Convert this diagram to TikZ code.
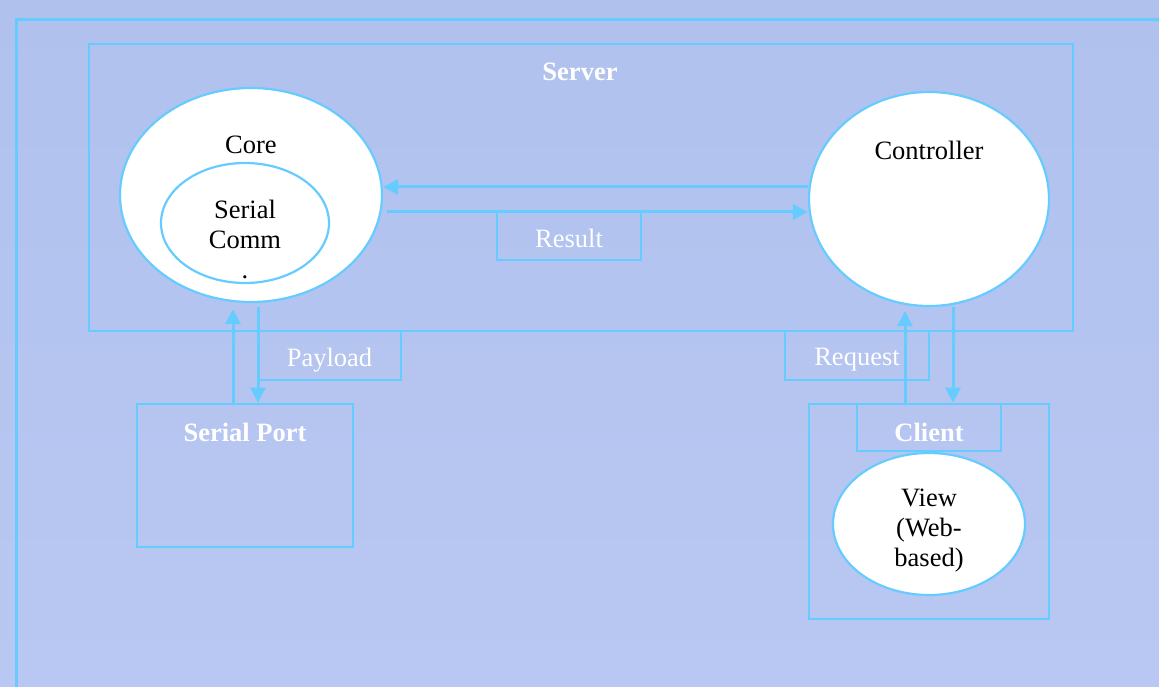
\documentclass[tikz,border=0pt]{standalone}
\usepackage{fontspec}
\setmainfont{Liberation Serif}
\usetikzlibrary{shapes.geometric,arrows.meta}
\definecolor{bgtop}{HTML}{B0C1EE}
\definecolor{bgbot}{HTML}{B9C8F2}
\definecolor{ln}{HTML}{66CCFF}
\tikzset{
  box/.style={draw=ln, line width=2.8pt, rectangle, inner sep=0pt},
  oval/.style={draw=ln, line width=2.2pt, fill=white, ellipse, inner sep=0pt},
  txt/.style={inner sep=0pt, font=\fontsize{26.5}{30}\selectfont, align=center},
  wtxt/.style={txt, text=white},
  btxt/.style={txt, text=white, font=\fontsize{26.5}{30}\selectfont\bfseries},
  arr/.style={draw=ln, line width=3pt, -{Triangle[length=15pt,width=15pt]}},
}
\begin{document}
\begin{tikzpicture}[x=1pt,y=-1pt]
\shade[top color=bgtop, bottom color=bgbot] (0,0) rectangle (1159,687);
\useasboundingbox (0,0) rectangle (1159,687);
% outer frame
\node[box, line width=3.2pt, minimum width=1300pt, minimum height=800pt, anchor=north west] (frame) at (15,18) {};
% server
\node[box, minimum width=984pt, minimum height=287pt] (server) at (581,187.5) {};
\node[btxt] (serverlbl) at (580,72) {Server};
% core
\node[oval, minimum width=262pt, minimum height=214pt] (core) at (251,195) {};
\node[txt] (corelbl) at (251,145) {Core};
\node[oval, minimum width=168pt, minimum height=120pt] (serial) at (245,223) {};
\node[txt] (seriallbl) at (245,239) {Serial\\Comm\\.};
% controller
\node[oval, minimum width=240pt, minimum height=214pt] (ctrl) at (929,199) {};
\node[txt] (ctrllbl) at (929,150) {Controller};
% result
\node[box, minimum width=144pt, minimum height=48pt] (result) at (569,236) {};
\node[wtxt] (resultlbl) at (569,238) {Result};
% payload
\node[box, minimum width=143pt, minimum height=49pt] (payload) at (329.5,355.5) {};
\node[wtxt] (payloadlbl) at (329.5,360) {Payload};
% request
\node[box, minimum width=144pt, minimum height=49pt] (request) at (857,355.5) {};
\node[wtxt] (requestlbl) at (857,360) {Request};
% serial port
\node[box, minimum width=216pt, minimum height=143pt] (sport) at (245,475.5) {};
\node[btxt] (sportlbl) at (245,432) {Serial Port};
% client
\node[box, minimum width=240pt, minimum height=215pt] (client) at (929,511.5) {};
\node[box, minimum width=144pt, minimum height=47pt] (clientbox) at (929,427.5) {};
\node[btxt] (clientlbl) at (929,432) {Client};
\node[oval, minimum width=192pt, minimum height=142pt] (view) at (929,524) {};
\node[txt] (viewlbl) at (929,531) {View\\(Web-\\based)};
% connectors
\draw[arr] (ctrl.west |- 0,187) -- (core.east |- 0,187);
\draw[arr, shorten <=4pt] (core.east |- 0,212) -- (ctrl.west |- 0,212);
\draw[arr, shorten >=6pt] (sport.north -| 233,0) -- (core.south -| 233,0);
\draw[arr, shorten <=4pt] (core.south -| 258,0) -- (sport.north -| 258,0);
\draw[arr, shorten >=4pt] (client.north -| 905,0) -- (ctrl.south -| 905,0);
\draw[arr] (ctrl.south -| 953,0) -- (client.north -| 953,0);
\end{tikzpicture}
\end{document}
